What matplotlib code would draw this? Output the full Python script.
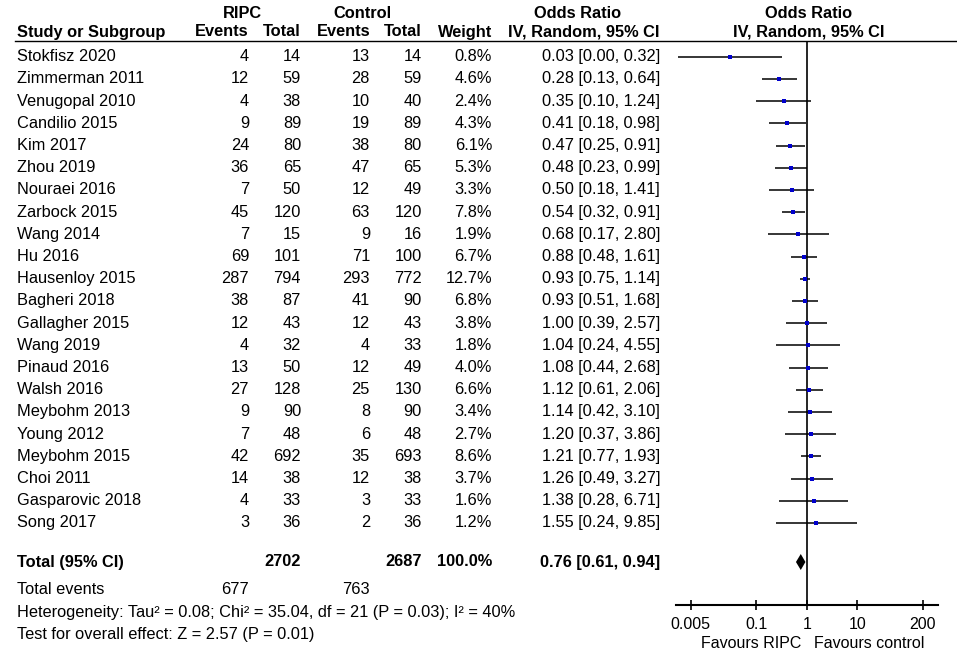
import numpy as np
import matplotlib
matplotlib.use('Agg')
import matplotlib.pyplot as plt

plt.rcParams['font.family'] = ['Liberation Sans', 'DejaVu Sans']

# study data
studies = ['Stokfisz 2020', 'Zimmerman 2011', 'Venugopal 2010', 'Candilio 2015', 'Kim 2017',
           'Zhou 2019', 'Nouraei 2016', 'Zarbock 2015', 'Wang 2014', 'Hu 2016', 'Hausenloy 2015',
           'Bagheri 2018', 'Gallagher 2015', 'Wang 2019', 'Pinaud 2016', 'Walsh 2016',
           'Meybohm 2013', 'Young 2012', 'Meybohm 2015', 'Choi 2011', 'Gasparovic 2018', 'Song 2017']
ripc_events = [4, 12, 4, 9, 24, 36, 7, 45, 7, 69, 287, 38, 12, 4, 13, 27, 9, 7, 42, 14, 4, 3]
ripc_total = [14, 59, 38, 89, 80, 65, 50, 120, 15, 101, 794, 87, 43, 32, 50, 128, 90, 48, 692, 38, 33, 36]
ctrl_events = [13, 28, 10, 19, 38, 47, 12, 63, 9, 71, 293, 41, 12, 4, 12, 25, 8, 6, 35, 12, 3, 2]
ctrl_total = [14, 59, 40, 89, 80, 65, 49, 120, 16, 100, 772, 90, 43, 33, 49, 130, 90, 48, 693, 38, 33, 36]
weight = [0.8, 4.6, 2.4, 4.3, 6.1, 5.3, 3.3, 7.8, 1.9, 6.7, 12.7, 6.8, 3.8, 1.8, 4.0, 6.6,
          3.4, 2.7, 8.6, 3.7, 1.6, 1.2]
odds = [0.03, 0.28, 0.35, 0.41, 0.47, 0.48, 0.50, 0.54, 0.68, 0.88, 0.93, 0.93, 1.00, 1.04,
        1.08, 1.12, 1.14, 1.20, 1.21, 1.26, 1.38, 1.55]
ci_low = [0.0028, 0.13, 0.10, 0.18, 0.25, 0.23, 0.18, 0.32, 0.17, 0.48, 0.75, 0.51, 0.39, 0.24,
          0.44, 0.61, 0.42, 0.37, 0.77, 0.49, 0.28, 0.24]
ci_high = [0.32, 0.64, 1.24, 0.98, 0.91, 0.99, 1.41, 0.91, 2.80, 1.61, 1.14, 1.68, 2.57, 4.55,
           2.68, 2.06, 3.10, 3.86, 1.93, 3.27, 6.71, 9.85]

# pooled result
total_ripc = 2702
total_ctrl = 2687
total_weight = 100.0
events_ripc = 677
events_ctrl = 763
pooled = [0.76, 0.61, 0.94]
het_text = 'Heterogeneity: Tau\u00b2 = 0.08; Chi\u00b2 = 35.04, df = 21 (P = 0.03); I\u00b2 = 40%'
effect_text = 'Test for overall effect: Z = 2.57 (P = 0.01)'

ticks = [0.005, 0.1, 1, 10, 200]
tick_labels = ['0.005', '0.1', '1', '10', '200']

W, H = 957, 653
fig = plt.figure(figsize=(W / 100, H / 100), dpi=100)

# text layer in pixel units
tx = fig.add_axes([0, 0, 1, 1])
tx.set_xlim(0, W)
tx.set_ylim(H, 0)
tx.axis('off')

fs = 11.8
row0, step = 56.7, 22.2
def row_y(i):
    return row0 + step * i

# column right edges
c_study = 17
c_re, c_rt, c_ce, c_ct, c_w, c_or = 249, 301, 370, 422, 492, 660

# headers
y1, y2 = 13.5, 32
tx.text(242, y1, 'RIPC', ha='center', va='center', fontsize=fs, weight='bold')
tx.text(362, y1, 'Control', ha='center', va='center', fontsize=fs, weight='bold')
tx.text(578, y1, 'Odds Ratio', ha='center', va='center', fontsize=fs, weight='bold')
tx.text(809, y1, 'Odds Ratio', ha='center', va='center', fontsize=fs, weight='bold')
tx.text(c_study, y2, 'Study or Subgroup', ha='left', va='center', fontsize=fs, weight='bold')
for x, s in [(c_re, 'Events'), (c_rt, 'Total'), (c_ce, 'Events'), (c_ct, 'Total'),
             (c_w, 'Weight'), (c_or, 'IV, Random, 95% CI')]:
    tx.text(x, y2, s, ha='right', va='center', fontsize=fs, weight='bold')
tx.text(809, y2, 'IV, Random, 95% CI', ha='center', va='center', fontsize=fs, weight='bold')
tx.plot([15, W], [40.7, 40.7], color='black', lw=1.0)

for i, name in enumerate(studies):
    y = row_y(i)
    tx.text(c_study, y, name, ha='left', va='center', fontsize=fs)
    tx.text(c_re, y, str(ripc_events[i]), ha='right', va='center', fontsize=fs)
    tx.text(c_rt, y, str(ripc_total[i]), ha='right', va='center', fontsize=fs)
    tx.text(c_ce, y, str(ctrl_events[i]), ha='right', va='center', fontsize=fs)
    tx.text(c_ct, y, str(ctrl_total[i]), ha='right', va='center', fontsize=fs)
    tx.text(c_w, y, f'{weight[i]:.1f}%', ha='right', va='center', fontsize=fs)
    tx.text(c_or, y, f'{odds[i]:.2f} [{ci_low[i]:.2f}, {ci_high[i]:.2f}]',
            ha='right', va='center', fontsize=fs)

y_tot = 562
tx.text(c_study, y_tot, 'Total (95% CI)', ha='left', va='center', fontsize=fs, weight='bold')
tx.text(c_rt, y_tot, str(total_ripc), ha='right', va='center', fontsize=fs, weight='bold')
tx.text(c_ct, y_tot, str(total_ctrl), ha='right', va='center', fontsize=fs, weight='bold')
tx.text(c_w, y_tot, f'{total_weight:.1f}%', ha='right', va='center', fontsize=fs, weight='bold')
tx.text(c_or, y_tot, f'{pooled[0]:.2f} [{pooled[1]:.2f}, {pooled[2]:.2f}]',
        ha='right', va='center', fontsize=fs, weight='bold')
tx.text(c_study, 590, 'Total events', ha='left', va='center', fontsize=fs)
tx.text(c_re, 590, str(events_ripc), ha='right', va='center', fontsize=fs)
tx.text(c_ce, 590, str(events_ctrl), ha='right', va='center', fontsize=fs)
tx.text(c_study, 613, het_text, ha='left', va='center', fontsize=fs)
tx.text(c_study, 635, effect_text, ha='left', va='center', fontsize=fs)

tx.text(751, 643.5, 'Favours RIPC', ha='center', va='center', fontsize=11.5)
tx.text(869, 643.5, 'Favours control', ha='center', va='center', fontsize=11.5)

# forest panel
top, bottom = 40.7, 605
ax = fig.add_axes([676 / W, (H - bottom) / H, (938 - 676) / W, (bottom - top) / H])
ax.set_xscale('log')
ax.set_xlim(0.00255, 400)
ax.set_ylim(bottom, top)
for s in ['top', 'left', 'right']:
    ax.spines[s].set_visible(False)
ax.spines['bottom'].set_linewidth(1.5)
ax.patch.set_alpha(0)
ax.axvline(1, color='black', lw=1.2)

ys = [row_y(i) for i in range(len(studies))]
ax.hlines(ys, ci_low, ci_high, color='black', lw=1.1, zorder=2)
for i in range(len(studies)):
    ax.plot(odds[i], ys[i], marker='s', color='#0000cc', ms=2.0 + 0.3 * np.sqrt(weight[i]),
            mew=0, ls='none', zorder=3)

dx = [pooled[1], pooled[0], pooled[2], pooled[0]]
dy = [y_tot, y_tot - 8, y_tot, y_tot + 8]
ax.fill(dx, dy, color='black', lw=0)

ax.set_xticks(ticks)
ax.set_xticklabels(tick_labels, fontsize=11.5)
ax.minorticks_off()
ax.tick_params(axis='x', direction='inout', length=7, width=1.2, pad=5)
ax.set_yticks([])

fig.savefig('out.png', dpi=100)
